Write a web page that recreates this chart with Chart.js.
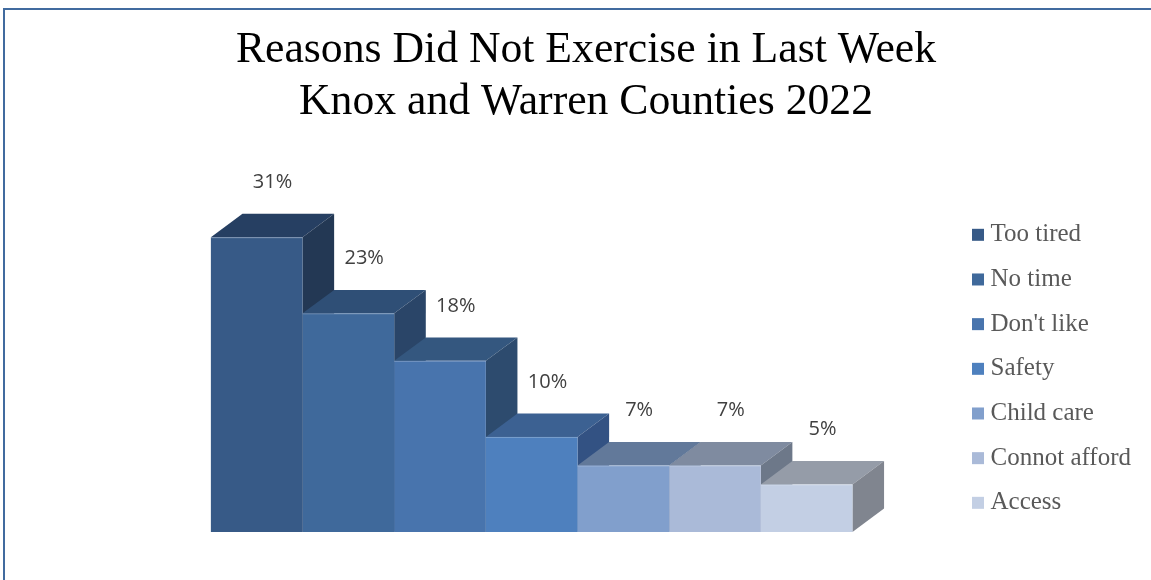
<!DOCTYPE html>
<html>
<head>
<meta charset="utf-8">
<script src="https://cdn.jsdelivr.net/npm/chart.js@4.4.1/dist/chart.umd.min.js"></script>
<style>
	html, body { margin: 0; padding: 0; background: #ffffff; }
	#wrap { position: relative; width: 1151px; height: 580px; }
</style>
</head>
<body>
<div id="wrap"><canvas id="bar-3d"></canvas></div>
<script>
const reasons = ["Too tired", "No time", "Don't like", "Safety", "Child care", "Connot afford", "Access"];
const percents = [31, 23, 18, 10, 7, 7, 5];
const titleLines = ["Reasons Did Not Exercise in Last Week", "Knox and Warren Counties 2022"];

// front / top / side shades for each reason
const frontColors = ["#375a87", "#3f699b", "#4874ad", "#4e80be", "#819fcc", "#aabad8", "#c3cfe4"];
const topColors = ["#263f62", "#2f4f76", "#34577f", "#3c6192", "#62799a", "#7f8ba0", "#959ca8"];
const sideColors = ["#233854", "#2a4568", "#2d4b6e", "#335283", "#4f6786", "#6d7889", "#80858f"];

const depthX = 31.6;
const depthY = -23.4;
const swatchSize = 12;
const swatchShift = 6;

function formDatasets() {
	var datasets = [];
	for (let i = 0; i < reasons.length; i++) {
		datasets.push({
			label: reasons[i],
			data: [percents[i]],
			backgroundColor: frontColors[i],
			borderWidth: 0,
		});
	}
	return datasets;
}

function polygon(ctx, pts, color) {
	ctx.beginPath();
	ctx.moveTo(pts[0][0], pts[0][1]);
	for (let i = 1; i < pts.length; i++) {
		ctx.lineTo(pts[i][0], pts[i][1]);
	}
	ctx.closePath();
	ctx.fillStyle = color;
	ctx.fill();
}

// tops and sides go under the front faces, left to right
const boxDepth = {
	id: "boxDepth",
	beforeDatasetsDraw(chart) {
		const ctx = chart.ctx;
		ctx.save();
		for (let i = 0; i < chart.data.datasets.length; i++) {
			const bar = chart.getDatasetMeta(i).data[0];
			const left = bar.x - bar.width / 2;
			const right = bar.x + bar.width / 2;
			const top = bar.y;
			const base = bar.base;
			polygon(ctx, [[left, top], [left + depthX, top + depthY], [right + depthX, top + depthY], [right, top]], topColors[i]);
			polygon(ctx, [[right, top], [right + depthX, top + depthY], [right + depthX, base + depthY], [right, base]], sideColors[i]);
		}
		ctx.restore();
	},
	afterDatasetsDraw(chart) {
		const ctx = chart.ctx;
		ctx.save();
		ctx.font = "20px 'Open Sans'";
		ctx.textAlign = "center";
		ctx.textBaseline = "middle";
		for (let i = 0; i < chart.data.datasets.length; i++) {
			const bar = chart.getDatasetMeta(i).data[0];
			// thin highlight along the front top edge
			ctx.fillStyle = "rgba(255,255,255,0.25)";
			ctx.fillRect(bar.x - bar.width / 2, bar.y, bar.width, 1);
			ctx.fillStyle = "#404040";
			const value = chart.data.datasets[i].data[0];
			ctx.fillText(`${value}%`, bar.x + depthX / 2, bar.y - 55);
		}
		ctx.restore();
	},
};

// legend swatches sit a bit closer to the text than Chart.js puts them
const legendSwatches = {
	id: "legendSwatches",
	afterDraw(chart) {
		const legend = chart.legend;
		if (!legend || !legend.legendHitBoxes) return;
		const ctx = chart.ctx;
		ctx.save();
		legend.legendHitBoxes.forEach((box, i) => {
			ctx.fillStyle = frontColors[i];
			ctx.fillRect(box.left + swatchShift, box.top + (box.height - swatchSize) / 2, swatchSize, swatchSize);
		});
		ctx.restore();
	},
};

// frame line on the top and left edge
const frame = {
	id: "frame",
	beforeDraw(chart) {
		const ctx = chart.ctx;
		ctx.save();
		ctx.fillStyle = "#416b9f";
		ctx.fillRect(3, 8, 2, chart.height - 8);
		ctx.fillRect(3, 8, chart.width - 3, 2);
		ctx.restore();
	},
};

const config_b1 = {
	type: "bar",
	data: {
		labels: [""],
		datasets: formDatasets(),
	},
	options: {
		responsive: true,
		maintainAspectRatio: false,
		animation: false,
		layout: {
			padding: { left: 31, right: 10, top: 12, bottom: 45 },
		},
		datasets: {
			bar: {
				categoryPercentage: 0.7736,
				barPercentage: 1,
			},
		},
		scales: {
			x: {
				display: true,
				grid: { display: false },
				border: { display: false },
				ticks: { display: false },
				afterFit(scale) {
					scale.height = 3;
				},
			},
			y: {
				display: true,
				min: 0,
				max: 38.25,
				grid: { display: false },
				border: { display: false },
				ticks: { display: false },
				afterFit(scale) {
					scale.width = 86;
				},
			},
		},
		plugins: {
			title: {
				display: true,
				text: titleLines,
				color: "#000000",
				font: { family: "'Liberation Serif'", size: 43.7, weight: "normal", lineHeight: 1.2 },
				padding: { top: 12, bottom: 39.4 },
			},
			legend: {
				position: "right",
				align: "end",
				labels: {
					boxWidth: 12,
					boxHeight: 12,
					padding: 19.67,
					color: "#595959",
					font: { family: "'Liberation Serif'", size: 25 },
					generateLabels(chart) {
						return chart.data.datasets.map((ds, i) => ({
							text: ds.label,
							fillStyle: "rgba(0,0,0,0)",
							strokeStyle: "rgba(0,0,0,0)",
							lineWidth: 0,
							fontColor: "#595959",
							hidden: false,
							datasetIndex: i,
						}));
					},
				},
			},
			tooltip: { enabled: false },
		},
	},
	plugins: [frame, boxDepth, legendSwatches],
};

new Chart(document.getElementById("bar-3d"), config_b1);
</script>
</body>
</html>
